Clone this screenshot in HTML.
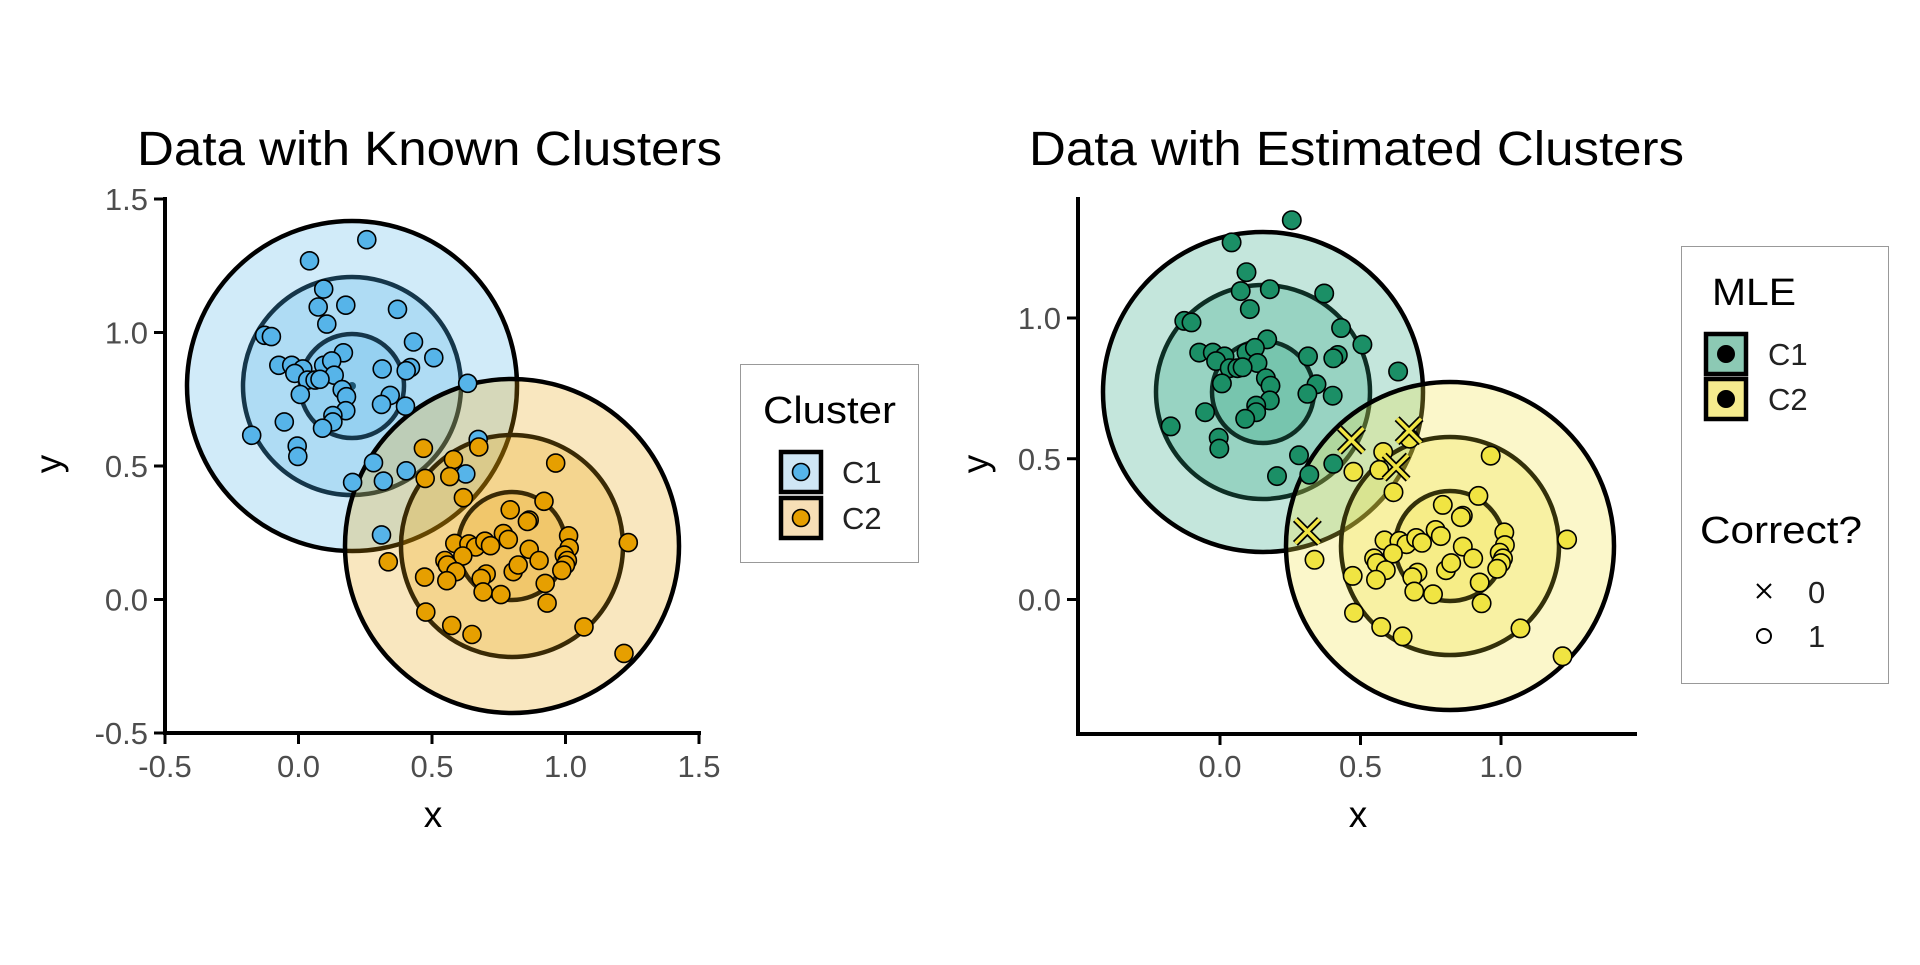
<!DOCTYPE html>
<html><head><meta charset="utf-8"><style>
html,body{margin:0;padding:0;background:#fff;}
svg text{font-family:"Liberation Sans",Arial,sans-serif;}
</style></head><body>
<svg id="s" width="1920" height="960" xmlns="http://www.w3.org/2000/svg"></svg>
<script>
const blue=[[596,200],[503,247],[526,310],[517,350],[562,346],[646,355],[531,388],[430,413],[441,416],[672,428],[558,452],[705,463],[453,480],[474,480],[492,488],[479,498],[526,480],[539,470],[621,488],[667,485],[660,492],[543,502],[500,513],[512,513],[520,511],[556,534],[488,545],[563,550],[634,547],[620,567],[659,571],[562,581],[541,592],[541,606],[524,620],[462,606],[409,636],[483,660],[484,683],[760,520],[777,645],[607,697],[660,715],[623,738],[573,741],[757,722],[620,858]];
const orange=[[688,665],[778,662],[737,690],[903,698],[691,732],[731,728],[753,775],[884,783],[829,802],[860,825],[857,828],[818,855],[826,868],[924,860],[739,877],[762,878],[773,885],[788,872],[797,882],[752,905],[860,890],[925,887],[917,903],[922,915],[919,925],[913,937],[723,915],[727,925],[741,940],[790,945],[782,955],[834,940],[842,925],[876,915],[631,918],[690,952],[726,960],[886,966],[785,985],[814,991],[889,1010],[692,1030],[734,1060],[767,1080],[949,1063],[1014,1122],[1021,875]];
const crossL=[[688,665],[777,645],[757,722],[620,858]];
function toData(p){const px=p[0]/1.625,py=p[1]/2.229+150;return [(px-165)/267-0.5,(733-py)/267-0.5];}
function L(d){return [165+(d[0]+0.5)*267,733-(d[1]+0.5)*267];}
function R(d){return [1220+d[0]*281,599.5-d[1]*281.5];}
let h='';
function circ(cx,cy,r,fill,stroke,sw){h+=`<circle cx="${cx}" cy="${cy}" r="${r}" fill="${fill}" stroke="${stroke}" stroke-width="${sw}"/>`;}
function txt(x,y,s,size,anchor,color,extra){h+=`<text x="${x}" y="${y}" font-size="${size}" text-anchor="${anchor||'start'}" fill="${color||'#000'}" ${extra||''}>${s}</text>`;}
function rings(cx,cy,rs,col,a){rs.forEach(r=>{h+=`<circle cx="${cx}" cy="${cy}" r="${r}" fill="${col}" fill-opacity="${a}"/>`;});}
function strokes(cx,cy,rs,dark){
  h+=`<circle cx="${cx}" cy="${cy}" r="${rs[0]}" fill="none" stroke="#000" stroke-width="4.5"/>`;
  h+=`<circle cx="${cx}" cy="${cy}" r="${rs[1]}" fill="none" stroke="${dark}" stroke-width="4.5"/>`;
  h+=`<circle cx="${cx}" cy="${cy}" r="${rs[2]}" fill="none" stroke="${dark}" stroke-width="4.5"/>`;
}
// LEFT
rings(352,386,[165,109,52],'#56B4E9',0.27);
strokes(352,386,[165,109,52],'#15364a');
rings(512,546,[167,111,54],'#E69F00',0.25);
strokes(512,546,[167,111,54],'#3a2a05');
circ(352,386,4,'#1d5775','none',0);
blue.forEach(p=>{const q=L(toData(p));circ(q[0].toFixed(1),q[1].toFixed(1),9,'#56B4E9','#000',1.6);});
orange.forEach(p=>{const q=L(toData(p));circ(q[0].toFixed(1),q[1].toFixed(1),9,'#E69F00','#000',1.6);});
// left axes
h+=`<path d="M165 197 V733 H701" fill="none" stroke="#000" stroke-width="4"/>`;
[1.5,1.0,0.5,0.0,-0.5].forEach(v=>{const y=733-(v+0.5)*267;h+=`<line x1="154" x2="165" y1="${y}" y2="${y}" stroke="#000" stroke-width="3"/>`;txt(148,y+11,v.toFixed(1),31,'end','#4d4d4d');});
[-0.5,0,0.5,1,1.5].forEach(v=>{const x=165+(v+0.5)*267;h+=`<line x1="${x}" x2="${x}" y1="733" y2="744" stroke="#000" stroke-width="3"/>`;txt(x,777,v.toFixed(1),31,'middle','#4d4d4d');});
txt(433,827,'x',37,'middle');
txt(0,0,'y',37,'middle','#000','transform="translate(61,464) rotate(-90)"');
txt(137,165,'Data with Known Clusters',48,'start','#000','textLength="585" lengthAdjust="spacingAndGlyphs"');
// left legend
h+=`<rect x="740.5" y="364.5" width="178" height="198" fill="#fff" stroke="#999" stroke-width="1"/>`;
txt(763,423,'Cluster',38,'start','#000','textLength="133" lengthAdjust="spacingAndGlyphs"');
h+=`<rect x="781" y="452" width="40" height="40" fill="#cfe6f5" stroke="#000" stroke-width="4.5"/>`;
circ(801,472,8.5,'#56B4E9','#000',1.6);
h+=`<rect x="781" y="498" width="40" height="40" fill="#f7dfb6" stroke="#000" stroke-width="4.5"/>`;
circ(801,518,8.5,'#E69F00','#000',1.6);
txt(842,483,'C1',31,'start','#222');txt(842,529,'C2',31,'start','#222');
// RIGHT
rings(1263,392,[160,107,51],'#1b9e77',0.26);
strokes(1263,392,[160,107,51],'#0d2e24');
rings(1450,546,[164,109,55],'#F0E442',0.28);
strokes(1450,546,[164,109,55],'#33300a');
const isCross=p=>crossL.some(c=>c[0]===p[0]&&c[1]===p[1]);
blue.forEach(p=>{if(isCross(p))return;const q=R(toData(p));circ(q[0].toFixed(1),q[1].toFixed(1),9.2,'#1b8f66','#000',1.6);});
orange.forEach(p=>{if(isCross(p))return;const q=R(toData(p));circ(q[0].toFixed(1),q[1].toFixed(1),9.2,'#F0E442','#000',1.6);});
crossL.forEach(p=>{const q=R(toData(p));const s=12;
 const d=`M${q[0]-s} ${q[1]-s} L${q[0]+s} ${q[1]+s} M${q[0]-s} ${q[1]+s} L${q[0]+s} ${q[1]-s}`;
 h+=`<path d="${d}" stroke="#000" stroke-width="7" fill="none"/><path d="${d}" stroke="#F0E442" stroke-width="3.5" fill="none"/>`;});
h+=`<path d="M1078 197 V734 H1637" fill="none" stroke="#000" stroke-width="4"/>`;
[1.0,0.5,0.0].forEach(v=>{const y=599.5-v*281.5;h+=`<line x1="1067" x2="1078" y1="${y}" y2="${y}" stroke="#000" stroke-width="3"/>`;txt(1061,y+11,v.toFixed(1),31,'end','#4d4d4d');});
[0,0.5,1].forEach(v=>{const x=1220+v*281;h+=`<line x1="${x}" x2="${x}" y1="734" y2="745" stroke="#000" stroke-width="3"/>`;txt(x,777,v.toFixed(1),31,'middle','#4d4d4d');});
txt(1358,827,'x',37,'middle');
txt(0,0,'y',37,'middle','#000','transform="translate(988,464) rotate(-90)"');
txt(1029,165,'Data with Estimated Clusters',48,'start','#000','textLength="655" lengthAdjust="spacingAndGlyphs"');
// right legend
h+=`<rect x="1681.5" y="246.5" width="207" height="437" fill="#fff" stroke="#999" stroke-width="1"/>`;
txt(1712,305,'MLE',38,'start','#000','textLength="84" lengthAdjust="spacingAndGlyphs"');
h+=`<rect x="1706" y="334" width="40" height="40" fill="#8cc9b4" stroke="#000" stroke-width="4.5"/>`;
circ(1726,354,8.5,'#000','#000',1);
h+=`<rect x="1706" y="379" width="40" height="40" fill="#f5eb8e" stroke="#000" stroke-width="4.5"/>`;
circ(1726,399,8.5,'#000','#000',1);
txt(1768,365,'C1',31,'start','#222');txt(1768,410,'C2',31,'start','#222');
txt(1700,543,'Correct?',38,'start','#000','textLength="162" lengthAdjust="spacingAndGlyphs"');
h+=`<path d="M1757 584 L1771 598 M1757 598 L1771 584" stroke="#000" stroke-width="2"/>`;
circ(1764,636,7,'none','#000',2);
txt(1808,603,'0',31,'start','#222');txt(1808,647,'1',31,'start','#222');
document.getElementById('s').innerHTML=h;
</script>
</body></html>
